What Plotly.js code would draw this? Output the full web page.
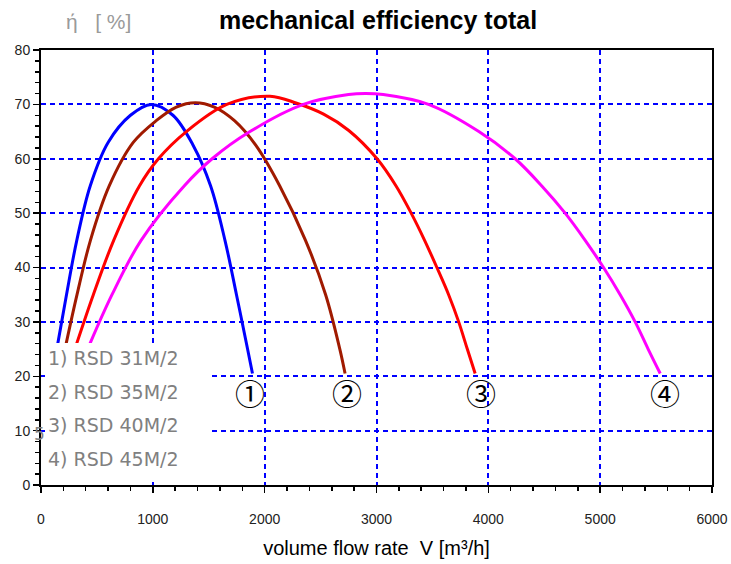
<!DOCTYPE html>
<html>
<head>
<meta charset="utf-8">
<script src="https://cdn.plot.ly/plotly-3.0.1.min.js"></script>
<style>html,body{margin:0;padding:0;background:#fff;}#chart{width:731px;height:564px;}</style>
</head>
<body>
<div id="chart"></div>
<script>
// Data
var seriesNames = ["1) RSD 31M/2", "2) RSD 35M/2", "3) RSD 40M/2", "4) RSD 45M/2"];
var curveMarks = ["①", "②", "③", "④"];

var flow31 = [150, 228, 320, 440, 600, 800, 985, 1180, 1360, 1517, 1645, 1748, 1847, 1891];
var eff31  = [26, 35, 45, 55, 63, 68, 70, 68, 62.5, 55, 45, 35, 25, 20.5];

var flow35 = [225, 322, 442, 610, 825, 1030, 1210, 1380, 1550, 1730, 1920, 2135, 2365, 2545, 2672, 2719];
var eff35  = [26, 35, 45, 55, 63, 67, 69.5, 70.3, 69.5, 67, 62.5, 55, 45, 35, 25, 20.5];

var flow40 = [319, 468, 650, 880, 1050, 1300, 1661, 2048, 2287, 2527, 2752, 3005, 3175, 3310, 3430, 3540, 3645, 3735, 3812, 3882];
var eff40  = [26, 35, 45, 55, 60, 65, 70, 71.5, 70.2, 68.2, 65.2, 60, 55, 50, 45, 40, 35, 30, 25, 20.5];

var flow45 = [438, 635, 895, 1280, 1530, 1869, 2346, 2750, 2900, 3060, 3465, 3915, 4240, 4478, 4687, 4866, 5030, 5179, 5313, 5429, 5537];
var eff45  = [26, 35, 45, 55, 60, 65, 70, 71.8, 72, 71.8, 70, 65, 60, 55, 50, 45, 40, 35, 30, 25, 20.5];

var xTicks = [0, 1000, 2000, 3000, 4000, 5000, 6000];
var yTicks = [0, 10, 20, 30, 40, 50, 60, 70, 80];

var flows = [flow31, flow35, flow40, flow45];
var effs = [eff31, eff35, eff40, eff45];
var colors = ["#0000ff", "#a01a00", "#ff0000", "#ff00ff"];

var traces = flows.map(function (f, i) {
  return {
    x: f, y: effs[i], type: "scatter", mode: "lines", name: seriesNames[i],
    line: {color: colors[i], width: 3, shape: "spline", smoothing: 1},
    hoverinfo: "skip"
  };
});

var annotations = [];
// circled curve numbers below the curve ends
var markShift = [-2, 2, 6, 5];
flows.forEach(function (f, i) {
  annotations.push({
    x: f[f.length - 1], y: effs[i][effs[i].length - 1], xref: "x", yref: "y",
    text: curveMarks[i], showarrow: false, yshift: -18, xshift: markShift[i],
    font: {family: "Noto Sans CJK JP, DejaVu Sans", size: 30, color: "#000"}
  });
});
// legend-like texts
seriesNames.forEach(function (s, i) {
  annotations.push({
    x: (46 - 41) / 671, y: (485 - (358 + i * 33.5)) / 435, xref: "paper", yref: "paper",
    xanchor: "left", yanchor: "middle", text: s, showarrow: false,
    font: {family: "DejaVu Sans", size: 19, color: "#808080"}
  });
});
// axis unit label and stray glyph
annotations.push({
  x: (64 - 41) / 671, y: (485 - 21) / 435, xref: "paper", yref: "paper",
  xanchor: "left", yanchor: "middle", text: "ή   [ %]", showarrow: false,
  font: {family: "Liberation Sans, Arial", size: 21, color: "#9a9a9a"}
});
annotations.push({
  x: (39 - 41) / 671, y: (485 - 434) / 435, xref: "paper", yref: "paper",
  text: "5", showarrow: false, xanchor: "center", yanchor: "middle",
  font: {family: "DejaVu Sans", size: 17, color: "#808080"}
});

var layout = {
  width: 731, height: 564,
  margin: {l: 41, r: 19, t: 50, b: 79, pad: 0},
  paper_bgcolor: "#fff", plot_bgcolor: "#fff",
  showlegend: false,
  title: {
    text: "<b>mechanical efficiency total</b>", x: 378 / 731, xanchor: "center",
    y: 1 - 20 / 564, yanchor: "middle",
    font: {family: "Liberation Sans, Arial", size: 25, color: "#000"}
  },
  xaxis: {
    range: [0, 6000], tickvals: xTicks, ticktext: xTicks.map(String),
    showgrid: true, gridcolor: "#0000ff", gridwidth: 2, griddash: "5px,4px",
    zeroline: false, showline: true, linecolor: "#000", linewidth: 2, mirror: true,
    ticks: "outside", ticklen: 6, tickwidth: 1.5, tickcolor: "#000",
    ticklabelstandoff: 14,
    minor: {dtick: 200, ticks: "outside", ticklen: 4, tickwidth: 1.5, tickcolor: "#000", showgrid: false},
    tickfont: {family: "Liberation Sans, Arial", size: 14, color: "#222"},
    title: {text: "volume flow rate  V [m³/h]", standoff: 15,
      font: {family: "Liberation Sans, Arial", size: 20, color: "#000"}},
    fixedrange: true
  },
  yaxis: {
    range: [0, 80], tickvals: yTicks, ticktext: yTicks.map(String),
    showgrid: true, gridcolor: "#0000ff", gridwidth: 2, griddash: "5px,4px",
    zeroline: false, showline: true, linecolor: "#000", linewidth: 2, mirror: true,
    ticks: "outside", ticklen: 6, tickwidth: 1.5, tickcolor: "#000",
    minor: {dtick: 2, ticks: "outside", ticklen: 4, tickwidth: 1.5, tickcolor: "#000", showgrid: false},
    tickfont: {family: "Liberation Sans, Arial", size: 14, color: "#222"},
    fixedrange: true
  },
  shapes: [{
    type: "rect", xref: "paper", yref: "paper", layer: "above",
    x0: (45 - 41) / 671, x1: (208 - 41) / 671, y0: (485 - 480) / 435, y1: (485 - 343) / 435,
    fillcolor: "#fff", line: {width: 0}
  }],
  annotations: annotations
};

Plotly.newPlot("chart", traces, layout, {displayModeBar: false, staticPlot: true});
</script>
</body>
</html>
